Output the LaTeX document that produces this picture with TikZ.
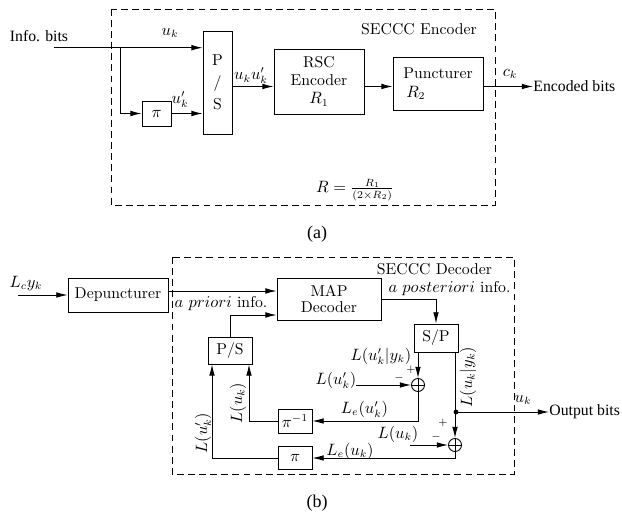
\documentclass[tikz,border=0pt]{standalone}
\usepackage{fontspec}
\newfontfamily\tms{Liberation Serif}
\usetikzlibrary{arrows.meta}
\begin{document}
\begin{tikzpicture}[x=0.6667pt,y=-0.6667pt, line width=0.6pt,
 font=\fontsize{10.5}{12.6}\selectfont,
 >={Latex[length=7.5pt,width=3.8pt]},
 blk/.style={draw, inner sep=0pt, align=center},
 lbl/.style={inner sep=0pt},
 sumn/.style={draw, circle, minimum size=8.7pt, inner sep=0pt,
   path picture={\draw (path picture bounding box.north)--(path picture bounding box.south)
     (path picture bounding box.west)--(path picture bounding box.east);}},
 dbox/.style={draw, dash pattern=on 4.6pt off 2.8pt, line width=0.6pt},
 sgn/.style={inner sep=0pt, font=\scriptsize},
 figcap/.style={inner sep=0pt, font=\tms\fontsize{12}{14}\selectfont}]
\useasboundingbox (0,0) rectangle (622,516);

% ---------------- (a) encoder ----------------
\draw[dbox] (111,9) rectangle (495,205);
\node[lbl] (encl) at (419,29) {SECCC Encoder};
\node[lbl, font=\tms\fontsize{10.5}{12.6}\selectfont] (infob) at (39,36) {Info. bits};

\node[blk, minimum width=19.3pt, minimum height=16.7pt] (pia) at (156.5,113.5) {$\pi$};
\node[blk, minimum width=19.3pt, minimum height=68.7pt] (psa) at (217.5,82.5) {P\\[2pt]/\\[2pt]S};
\node[blk, minimum width=60pt, minimum height=43.3pt] (rsc) at (319,81.5) {RSC\\[-1pt]Encoder\\$R_1$};
\node[blk, minimum width=60pt, minimum height=35.3pt, align=left] (pun) at (438,83.5) {Puncturer\\\hspace{2pt}$R_2$};
\node[lbl, anchor=west, font=\tms\fontsize{10.5}{12.6}\selectfont] (encb) at (533,86.5) {Encoded bits};

\coordinate (ina) at (54,47.7);
\coordinate (br) at (120,47.7);
\coordinate (lv) at (0,86.5);
\draw[->] (ina) -- (psa.west |- ina);
\draw[->] (br) |- (pia.west);
\draw[->] (pia.east) -- (psa.west |- pia.east);
\draw[->] (psa.east |- lv) -- (rsc.west |- lv);
\draw[->] (rsc.east |- lv) -- (pun.west |- lv);
\draw[->] (pun.east |- lv) -- (encb.west);

\node[lbl] (luk) at (170,33) {$u_k$};
\node[lbl] (lukp) at (180,100) {$u'_k$};
\node[lbl] (lukukp) at (251,76) {$u_ku'_k$};
\node[lbl] (lck) at (510,74) {$c_k$};
\node[lbl] (form) at (355,190) {$R=\frac{R_1}{(2\times R_2)}$};
\node[figcap] (capa) at (317,234) {(a)};

% ---------------- (b) decoder ----------------
\draw[dbox] (172,257) rectangle (514,474);
\node[lbl] (decl) at (434.5,269) {SECCC Decoder};

\node[blk, minimum width=66.7pt, minimum height=22.7pt] (dep) at (118,295) {Depuncturer};
\node[blk, minimum width=69.3pt, minimum height=28pt] (map) at (329,299) {MAP\\[-2pt]Decoder};
\node[blk, minimum width=29.3pt, minimum height=18pt] (psb) at (230,350.5) {P/S};
\node[blk, minimum width=29.3pt, minimum height=18.7pt] (sp) at (436,338) {S/P};
\node[blk, minimum width=22.7pt, minimum height=16pt] (pinv) at (295,421) {$\pi^{-1}$};
\node[blk, minimum width=22.7pt, minimum height=15.3pt] (pib) at (295,458) {$\pi$};
\node[sumn] (add1) at (418,385) {};
\node[sumn] (add2) at (455,445) {};
\node[lbl, anchor=west, font=\tms\fontsize{10.5}{12.6}\selectfont] (outb) at (549,412) {Output bits};

\coordinate (inb) at (18,295);
\coordinate (lv1) at (0,291);
\coordinate (lv2) at (0,315);
\coordinate (inL1) at (356,385);
\coordinate (inL2) at (410,445);
\coordinate (xL1) at (212,0);
\coordinate (xL2) at (249,0);
\coordinate (dot) at (456,412);

\draw[->] (inb) -- (dep.west);
\draw[->] (dep.east |- lv1) -- (map.west |- lv1);
\draw[->] (psb.north) |- (map.west |- lv2);
\draw[->] (map.east) -| (sp.north);
\draw[->] (sp.south -| add1) -- (add1.north);
\draw[->] (sp.south -| add2) -- (add2.north);
\draw[->] (dot) -- (outb.west);
\fill (dot) circle (1.6pt);
\draw[->] (add1.south) |- (pinv.east);
\draw[->] (add2.south) |- (pib.east);
\draw[->] (pinv.west) -| (psb.south -| xL2);
\draw[->] (pib.west) -| (psb.south -| xL1);
\draw[->] (inL1) -- (add1.west);
\draw[->] (inL2) -- (add2.west);

\node[lbl] (lcyk) at (26,283) {$L_cy_k$};
\node[lbl] (apri) at (221,304) {$a\ priori$ info.};
\node[lbl] (apos) at (449.5,289) {$a\ posteriori$ info.};
\node[lbl] (lukpyk) at (381,356) {$L(u'_k|y_k)$};
\node[lbl] (lukp1) at (336,380) {$L(u'_k)$};
\node[sgn] (p1) at (411,370) {$+$};
\node[sgn] (m1) at (399,378) {$-$};
\node[lbl] (leukp) at (364.5,409) {$L_e(u'_k)$};
\node[lbl] (luk2) at (398,434) {$L(u_k)$};
\node[sgn] (p2) at (443,423) {$+$};
\node[sgn] (m2) at (436,437) {$-$};
\node[lbl] (leuk) at (350,451) {$L_e(u_k)$};
\node[lbl, rotate=90] (lukyk) at (468,377) {$L(u_k|y_k)$};
\node[lbl] (ukout) at (523,400) {$u_k$};
\node[lbl, rotate=90] (rlukp) at (203,433) {$L(u'_k)$};
\node[lbl, rotate=90] (rluk) at (238,403) {$L(u_k)$};
\node[figcap] (capb) at (317,503) {(b)};
\end{tikzpicture}
\end{document}
